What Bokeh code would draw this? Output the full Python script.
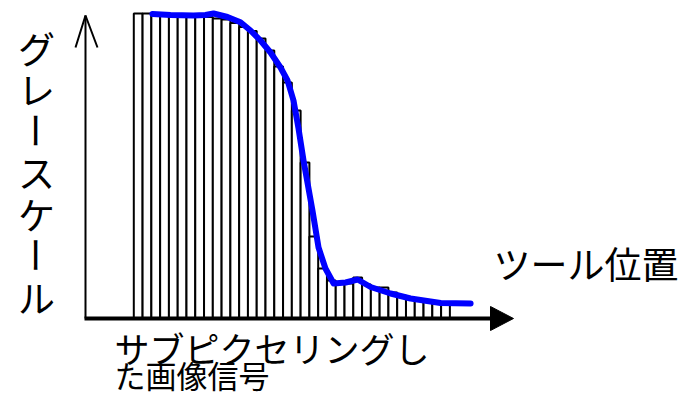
import math
from bokeh.plotting import figure
from bokeh.models import Range1d, ColumnDataSource
from bokeh.core.properties import value
from bokeh.embed import file_html
from bokeh.resources import INLINE

# ---- data ----
bar_heights = [305, 305, 305, 304, 304, 303.5, 303, 302.5, 301.5, 300,
               299, 295.5, 291.5, 287.5, 280, 268, 252, 236, 208, 156,
               82, 50, 38, 35, 35, 41, 34, 31, 31, 26,
               23, 21, 19, 18, 17, 16]
curve_x = [2.13, 4.18, 6.80, 8.16, 9.08, 10.67, 12.15, 13.29, 14.43, 15.57,
           16.71, 17.51, 18.19, 18.76, 19.33, 19.90, 20.35, 21.04, 21.83, 22.76,
           24.13, 25.49, 26.97, 29.25, 31.52, 34.94, 38.36]
curve_y = [304.5, 303.5, 303, 303.5, 305, 301.5, 296.3, 288, 278, 266,
           251, 238, 218, 190, 158, 130, 108, 71, 50, 35,
           36, 39, 31.5, 25, 20, 15.5, 15]
y_label = "グレースケール"
x_label = "ツール位置"
sub_label_1 = "サブピクセリングし"
sub_label_2 = "た画像信号"

# ---- layout helpers (page pixel -> data) ----
W, H = 682, 399
X0, BW = 133.3, 8.78   # page x of first bar edge, bar width in px
Y0 = 318               # page y of baseline

def ux(px):
    return (px - X0) / BW

def vy(py):
    return Y0 - py

p = figure(width=W, height=H, output_backend="svg", toolbar_location=None,
           x_range=Range1d(ux(0), ux(W)), y_range=Range1d(vy(H), vy(0)),
           min_border=0, outline_line_color=None)
p.axis.visible = False
p.grid.visible = False
p.background_fill_color = "white"
p.border_fill_color = "white"

n = len(bar_heights)
src = ColumnDataSource(dict(left=list(range(n)), right=[i + 1 for i in range(n)],
                            top=bar_heights, bottom=[0] * n))
p.quad(left="left", right="right", top="top", bottom="bottom", source=src,
       fill_color="white", line_color="black", line_width=2)

p.line(curve_x, curve_y, line_color="#0000ff", line_width=6,
       line_join="round", line_cap="round")

# y axis with open arrow head
ax = ux(85)
p.line([ax, ax], [vy(318), vy(15)], line_color="black", line_width=2)
p.line([ux(75), ax, ux(97)], [vy(47), vy(15), vy(47)], line_color="black", line_width=2)

# x axis with filled arrow head
p.line([ux(84), ux(492)], [0, 0], line_color="black", line_width=4)
p.patch([ux(490), ux(513), ux(490)], [vy(306), vy(318), vy(330)],
        fill_color="black", line_color="black", line_width=1)

font = value("Noto Sans CJK JP")

# vertical y label
for k, ch in enumerate(y_label):
    cy = 47 + k * 41.5
    ang = -math.pi / 2 if ch == "ー" else 0
    p.text(x=[ux(36)], y=[vy(cy)], text=[ch], text_font=font,
           text_font_size="37px", text_align="center", text_baseline="middle",
           angle=ang, text_color="black")

p.text(x=[ux(493)], y=[vy(262)], text=[x_label], text_font=font,
       text_font_size="37px", text_align="left", text_baseline="middle",
       text_color="black")
p.text(x=[ux(114)], y=[vy(347)], text=[sub_label_1], text_font=font,
       text_font_size="35px", text_align="left", text_baseline="middle",
       text_color="black")
p.text(x=[ux(114)], y=[vy(374)], text=[sub_label_2], text_font=font,
       text_font_size="31px", text_align="left", text_baseline="middle",
       text_color="black")

open("out.html", "w").write(file_html(p, INLINE))
